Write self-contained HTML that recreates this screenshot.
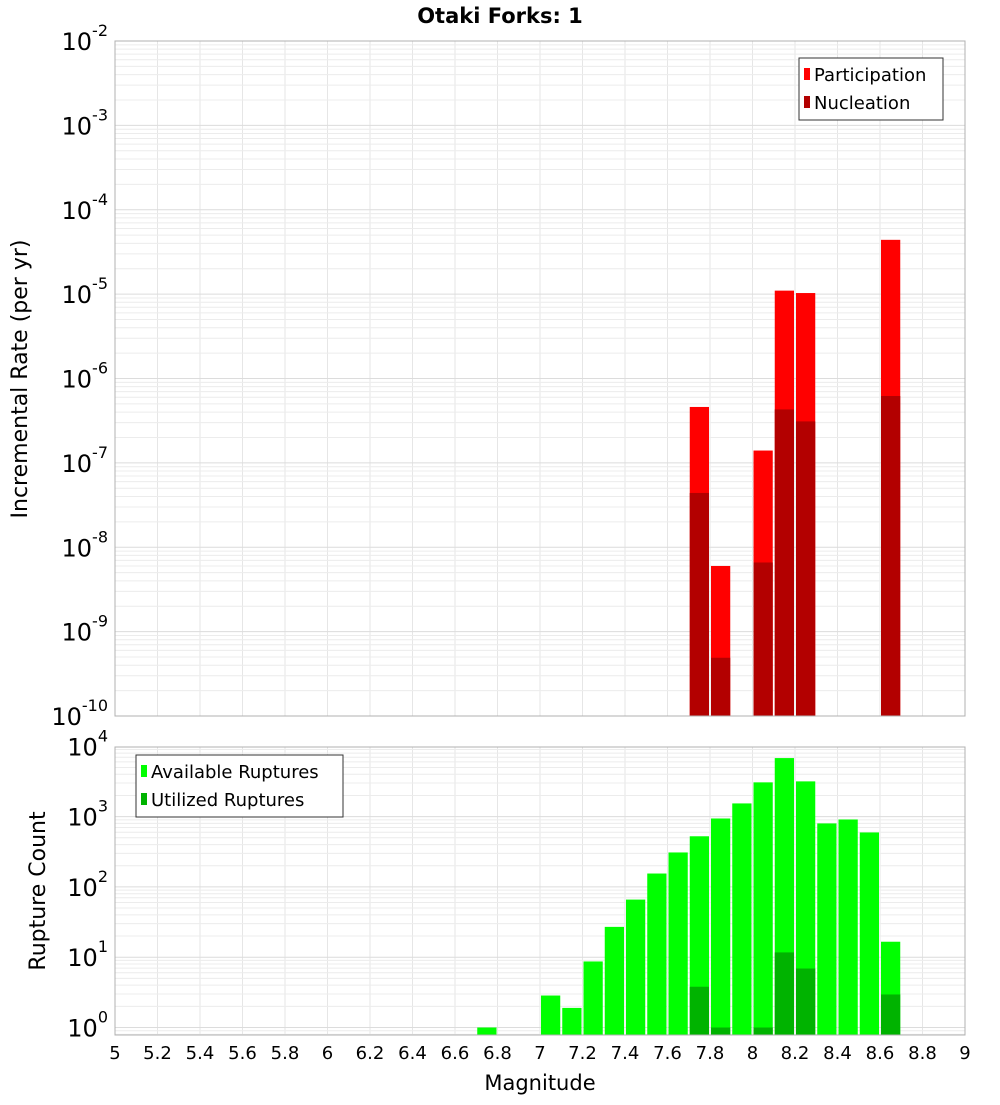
<!DOCTYPE html>
<html><head><meta charset="utf-8"><style>
body{margin:0;background:#fff;}
svg text{font-family:"DejaVu Sans","Liberation Sans",sans-serif;fill:#000;}
</style></head><body>
<svg id="c" width="1000" height="1100" xmlns="http://www.w3.org/2000/svg"></svg>
<script>
const magBins=[6.75,7.05,7.15,7.25,7.35,7.45,7.55,7.65,7.75,7.85,7.95,8.05,8.15,8.25,8.35,8.45,8.55,8.65];
const availableCounts=[1,2.85,1.9,8.7,27,66,155,309,525,940,1540,3070,6800,3170,800,910,595,16.6];
const utilMags=[7.75,7.85,8.05,8.15,8.25,8.65];
const utilCounts=[3.8,1,1,11.7,6.9,2.95];
const rateMags=[7.75,7.85,8.05,8.15,8.25,8.65];
const participation=[4.6e-7,6e-9,1.4e-7,1.1e-5,1.03e-5,4.4e-5];
const nucleation=[4.4e-8,4.9e-10,6.6e-9,4.3e-7,3.1e-7,6.2e-7];
const xTicks=["5","5.2","5.4","5.6","5.8","6","6.2","6.4","6.6","6.8","7","7.2","7.4","7.6","7.8","8","8.2","8.4","8.6","8.8","9"];
const topExps=[-2,-3,-4,-5,-6,-7,-8,-9,-10];
const botExps=[4,3,2,1,0];

const svg=document.getElementById('c');
const NS='http://www.w3.org/2000/svg';
function mk(tag,attrs,parent){const e=document.createElementNS(NS,tag);for(const k in attrs)e.setAttribute(k,attrs[k]);(parent||svg).appendChild(e);return e;}
const L=115,R=965;
const xs=m=>L+(m-5)/4*(R-L);
const T1=41,B1=716; const yTop=v=>T1+(-2-Math.log10(v))*(B1-T1)/8;
const D2=70.3,Y0=1027.5,T2=747,B2=1035; const yBot=v=>Y0-Math.log10(v)*D2;

function grid(top,bot,yf,decs){
  for(let t=0;t<=20;t++){const x=xs(5+t*0.2);const l=mk('line',{x1:x,x2:x,y1:top,y2:bot,stroke:'#e6e6e6'});}
  decs.forEach(d=>{for(let k=1;k<10;k++){const y=yf(k*Math.pow(10,d));if(y<top-0.5||y>bot+0.5)continue;const l=mk('line',{x1:L,x2:R,y1:y,y2:y,stroke:k==1?'#dcdcdc':'#ececec'});}});
}
grid(T1,B1,yTop,[-10,-9,-8,-7,-6,-5,-4,-3,-2]);
grid(T2,B2,yBot,[-1,0,1,2,3,4]);

function bar(m,v,yf,bot,color,name){const x=xs(m-0.05)+1,w=xs(m+0.05)-xs(m-0.05)-2;const y=yf(v);const r=mk('rect',{x:x,y:y,width:w,height:bot-y,fill:color});}
rateMags.forEach((m,i)=>bar(m,participation[i],yTop,B1,'#ff0000','participation-bar'));
rateMags.forEach((m,i)=>bar(m,nucleation[i],yTop,B1,'#b30000','nucleation-bar'));
magBins.forEach((m,i)=>bar(m,availableCounts[i],yBot,B2,'#00ff00','available-bar'));
utilMags.forEach((m,i)=>bar(m,utilCounts[i],yBot,B2,'#00b300','utilized-bar'));

let f=mk('rect',{x:L,y:T1,width:R-L,height:B1-T1,fill:'none',stroke:'#b0b0b0'});
f=mk('rect',{x:L,y:T2,width:R-L,height:B2-T2,fill:'none',stroke:'#b0b0b0'});

function ylab(y,e,name){const t=mk('text',{x:108,y:y+9,'text-anchor':'end','font-size':24});
 const a=mk('tspan',{},t);a.textContent='10';const b=mk('tspan',{dy:-14,'font-size':16},t);b.textContent=String(e);}
topExps.forEach(e=>ylab(yTop(Math.pow(10,e)),e,'y-tick-label'));
botExps.forEach(e=>ylab(yBot(Math.pow(10,e)),e,'y2-tick-label'));
xTicks.forEach(s=>{const t=mk('text',{x:xs(parseFloat(s)),y:1059,'text-anchor':'middle','font-size':18});t.textContent=s;});

function txt(s,a,name){const t=mk('text',a);t.textContent=s;return t;}
txt('Otaki Forks: 1',{x:500,y:23,'text-anchor':'middle','font-size':21,'font-weight':'bold'},'chart-title');
txt('Magnitude',{x:540,y:1090,'text-anchor':'middle','font-size':21},'x-axis-title');
txt('Incremental Rate (per yr)',{x:0,y:0,'text-anchor':'middle','font-size':22,transform:'translate(27,379) rotate(-90)'},'y-axis-title');
txt('Rupture Count',{x:0,y:0,'text-anchor':'middle','font-size':22,transform:'translate(45,891) rotate(-90)'},'y2-axis-title');

function legend(x,y,w,items,name){const g=mk('g',{});
 mk('rect',{x:x,y:y,width:w,height:items.length*28+6,fill:'#fff',stroke:'#333'},g);
 items.forEach((it,i)=>{mk('rect',{x:x+5,y:y+10+i*28,width:6,height:12,fill:it[1]},g);const t=mk('text',{x:x+15,y:y+23+i*28,'font-size':18},g);t.textContent=it[0];});}
legend(799,58,144,[['Participation','#ff0000'],['Nucleation','#b30000']],'top-legend');
legend(136,755,207,[['Available Ruptures','#00ff00'],['Utilized Ruptures','#00b300']],'bottom-legend');
</script>
</body></html>
